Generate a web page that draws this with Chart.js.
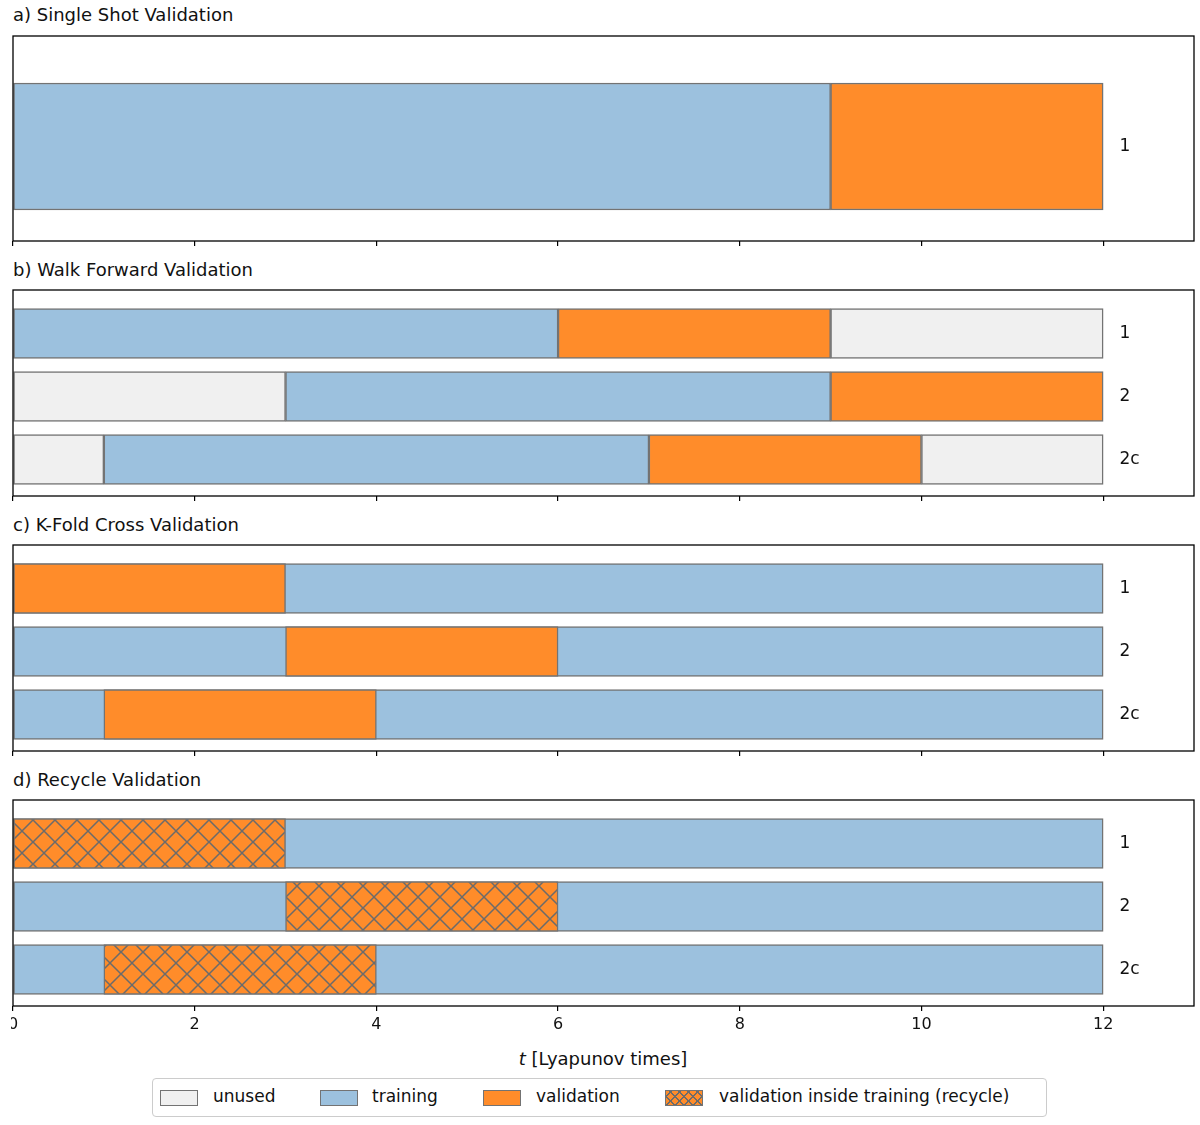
<!DOCTYPE html>
<html><head><meta charset="utf-8">
<script src="https://cdn.jsdelivr.net/npm/chart.js@4/dist/chart.umd.min.js"></script>
<style>
body{margin:0;width:1200px;height:1125px;background:#fff;font-family:"DejaVu Sans",sans-serif;position:relative;overflow:hidden}
.ttl{position:absolute;left:13px;font-size:18px;color:#111;line-height:1}
.box{position:absolute}
#xt{position:absolute;left:0;width:1206px;text-align:center;top:1048px;font-size:18px;color:#111}
#leg{position:absolute;left:152px;top:1078px;width:893px;height:37px;border:1px solid #ccc;border-radius:4px;font-size:17px;color:#111}
.sw{position:absolute;top:11px;width:36px;height:14px;border:1.5px solid #737373}
.lt{position:absolute;top:9px;line-height:1}
</style></head><body>
<div class="ttl" style="top:6px">a) Single Shot Validation</div>
<div class="ttl" style="top:261px">b) Walk Forward Validation</div>
<div class="ttl" style="top:516px">c) K-Fold Cross Validation</div>
<div class="ttl" style="top:771px">d) Recycle Validation</div>
<div class="box" style="left:11px;top:34px"><canvas id="ca"></canvas></div>
<div class="box" style="left:11px;top:288px"><canvas id="cb"></canvas></div>
<div class="box" style="left:11px;top:543px"><canvas id="cc"></canvas></div>
<div class="box" style="left:11px;top:798px"><canvas id="cd"></canvas></div>
<div id="xt"><i>t</i> [Lyapunov times]</div>
<div id="leg">
<div class="sw" style="left:7px;background:#f0f0f0"></div><div class="lt" style="left:60px">unused</div>
<div class="sw" style="left:167px;background:#9cc1de"></div><div class="lt" style="left:219px">training</div>
<div class="sw" style="left:330px;background:#ff8c2a"></div><div class="lt" style="left:383px">validation</div>
<div class="sw" style="left:512px;background-color:#ff8c2a;background-image:repeating-linear-gradient(45deg,transparent 0 5px,#6b6b6b 5px 6.5px),repeating-linear-gradient(-45deg,transparent 0 5px,#6b6b6b 5px 6.5px)"></div><div class="lt" style="left:566px">validation inside training (recycle)</div>
</div>
<script>
// ---- data ----
const rowLabelsA = ['1'];
const rowLabels = ['1', '2', '2c'];
const xTicks = [0, 2, 4, 6, 8, 10, 12];
// panel a
const trainA = [[0, 9]];
const validA = [[9, 12]];
// panel b (walk forward)
const trainB = [[0, 6], [3, 9], [1, 7]];
const validB = [[6, 9], [9, 12], [7, 10]];
const unusedLeftB = [null, [0, 3], [0, 1]];
const unusedRightB = [[9, 12], null, [10, 12]];
// panel c (k-fold)
const trainC = [[0, 12], [0, 12], [0, 12]];
const validC = [[0, 3], [3, 6], [1, 4]];
// panel d (recycle)
const trainD = [[0, 12], [0, 12], [0, 12]];
const recycleD = [[0, 3], [3, 6], [1, 4]];

const C_TRAIN = '#9cc1de', C_VALID = '#ff8c2a', C_UNUSED = '#f0f0f0', EDGE = '#737373';

function hatch() {
  const s = 22, c = document.createElement('canvas'); c.width = s; c.height = s;
  const g = c.getContext('2d');
  g.fillStyle = C_VALID; g.fillRect(0, 0, s, s);
  g.strokeStyle = '#6b6b6b'; g.lineWidth = 1.5;
  g.beginPath(); g.moveTo(-2, -2); g.lineTo(s + 2, s + 2); g.moveTo(s + 2, -2); g.lineTo(-2, s + 2); g.stroke();
  return g.createPattern(c, 'repeat');
}

function toData(segs) {
  const out = [];
  segs.forEach((s, i) => { if (s) out.push({ x: s, y: i }); });
  return out;
}
function ds(segs, color) {
  return { data: toData(segs), backgroundColor: color, borderColor: EDGE, borderWidth: 1.5,
    borderSkipped: false, grouped: false };
}

const frame = {
  id: 'frame',
  afterDraw(ch, a, o) {
    const { ctx, chartArea: c, scales } = ch;
    ctx.save();
    ctx.strokeStyle = '#000'; ctx.lineWidth = 1.3;
    ctx.strokeRect(c.left, c.top, c.right - c.left, c.bottom - c.top);
    ctx.fillStyle = '#111'; ctx.font = '17px "DejaVu Sans"'; ctx.textBaseline = 'middle'; ctx.textAlign = 'left';
    o.labels.forEach((l, i) => ctx.fillText(l, scales.x.getPixelForValue(12.18), scales.y.getPixelForValue(i)));
    ctx.restore();
  }
};

function panel(id, h, datasets, labels, thick, ymin, ymax, showLabels) {
  const cv = document.getElementById(id);
  const axH = showLabels ? 32 : 8;
  cv.width = 1185; cv.height = h + 2 + axH;
  cv.style.width = '1185px'; cv.style.height = (h + 2 + axH) + 'px';
  datasets.forEach(d => d.barThickness = thick);
  new Chart(cv, {
    type: 'bar',
    data: { datasets },
    plugins: [frame],
    options: {
      indexAxis: 'y', responsive: false, animation: false, devicePixelRatio: 1,
      layout: { padding: { left: 2, right: 2, top: 2, bottom: 0 } },
      plugins: { legend: { display: false }, tooltip: { enabled: false }, frame: { labels } },
      scales: {
        y: { type: 'linear', display: false, reverse: true, offset: false, min: ymin, max: ymax },
        x: {
          type: 'linear', min: 0, max: 13,
          afterBuildTicks: s => { s.ticks = xTicks.map(v => ({ value: v })); },
          afterFit: s => { s.height = axH; s.paddingLeft = 0; s.paddingRight = 0; },
          border: { display: false },
          grid: { drawOnChartArea: false, drawTicks: true, tickLength: 5, color: '#000', lineWidth: 1.2 },
          ticks: { display: showLabels, padding: 4, color: '#111', font: { size: 16, family: 'DejaVu Sans' },
            maxRotation: 0, autoSkip: false }
        }
      }
    }
  });
}

// first dataset is drawn on top
panel('ca', 205, [ds(validA, C_VALID), ds(trainA, C_TRAIN)], rowLabelsA, 127, -0.696, 0.595, false);
const ymin = -43.5 / 63, ymax = ymin + 206 / 63;
panel('cb', 206, [ds(unusedLeftB, C_UNUSED), ds(validB, C_VALID), ds(trainB, C_TRAIN), ds(unusedRightB, C_UNUSED)], rowLabels, 50, ymin, ymax, false);
panel('cc', 206, [ds(validC, C_VALID), ds(trainC, C_TRAIN)], rowLabels, 50, ymin, ymax, false);
panel('cd', 206, [ds(recycleD, hatch()), ds(trainD, C_TRAIN)], rowLabels, 50, ymin, ymax, true);
</script></body></html>
